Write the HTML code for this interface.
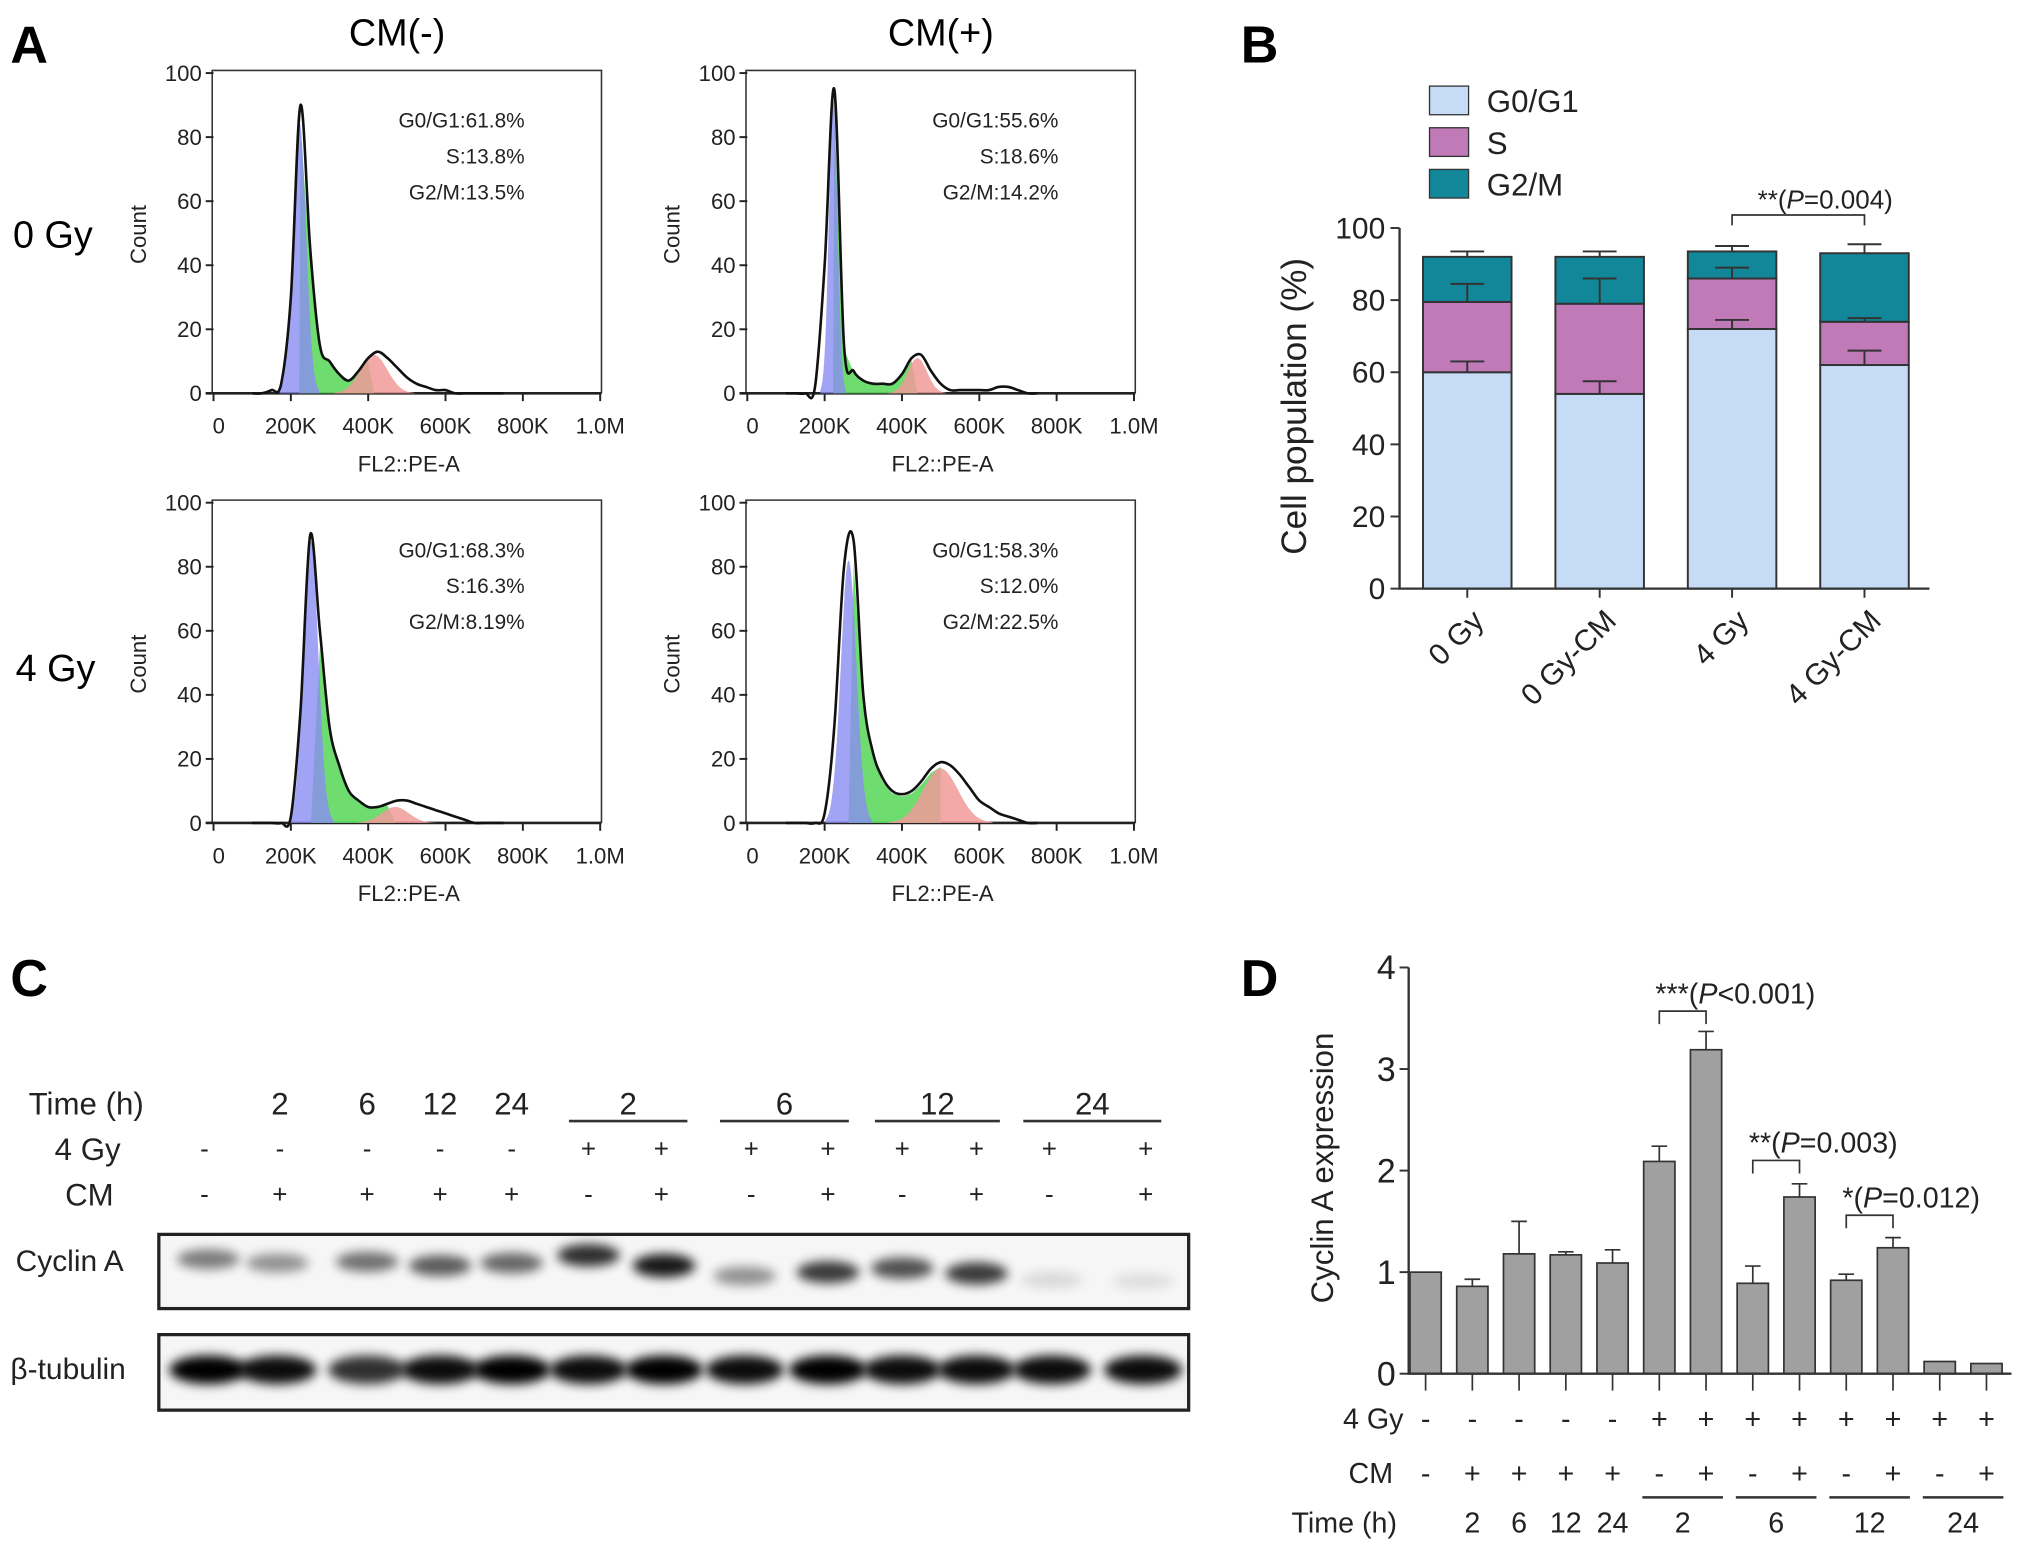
<!DOCTYPE html>
<html><head><meta charset="utf-8">
<style>
html,body{margin:0;padding:0;background:#fff;}
svg{display:block;font-family:"Liberation Sans",Arial,sans-serif;}
</style></head>
<body>
<svg id="fig" width="2031" height="1547" viewBox="0 0 1560 1188" xmlns="http://www.w3.org/2000/svg">
<defs><filter id="blur" x="-50%" y="-100%" width="200%" height="300%"><feGaussianBlur stdDeviation="4"/></filter></defs>
<rect width="1560" height="1188" fill="#fff"/>
<text x="8" y="48" font-size="40" font-weight="bold">A</text>
<text x="953" y="48" font-size="40" font-weight="bold">B</text>
<text x="8" y="765" font-size="40" font-weight="bold">C</text>
<text x="953" y="765" font-size="40" font-weight="bold">D</text>
<text x="268" y="35" font-size="29">CM(-)</text>
<text x="682" y="35" font-size="29">CM(+)</text>
<text x="10" y="190" font-size="29">0 Gy</text>
<text x="12" y="523" font-size="29">4 Gy</text>
<g id="hist"></g><g id="pb"></g><g id="pc"></g><g id="pd"></g>
</svg>
<script>
const NS='http://www.w3.org/2000/svg';
function mk(tag,attrs,parent,txt){const e=document.createElementNS(NS,tag);for(const k in attrs)e.setAttribute(k,attrs[k]);if(txt!==undefined)e.textContent=txt;parent.appendChild(e);return e;}

/* ---------- Panel A data ---------- */
const kGrid=[100,125,150,175,200,225,250,275,300,325,350,375,400,425,450,475,500,525,550,575,600,625,650,675,700,725,750];
const outlineTL=[0,0,1,3,30,90,45,15,10,6,4,7,11,13,11,8,5,3,2,1,1,0,0,0,0,0,0];
const outlineTR=[0,0,0,2,40,95,15,7,4,3,3,3,6,11,12,7,3,1,1,1,1,1,2,2,1,0,0];
const outlineBL=[0,0,0,0,2,35,90,60,30,18,10,7,5,5,6,7,7,6,5,4,3,2,1,0,0,0,0];
const outlineBR=[0,0,0,0,3,30,80,88,40,22,14,10,9,10,13,17,19,18,15,11,7,5,3,2,1,0,0];
const g1Params=[[222,85,17],[222,92,11],[252,88,19],[262,82,20]];
const g2Params=[[415,12,35],[440,11,25],[470,5,35],[500,17,45]];
const annG1=['G0/G1:61.8%','G0/G1:55.6%','G0/G1:68.3%','G0/G1:58.3%'];
const annS=['S:13.8%','S:18.6%','S:16.3%','S:12.0%'];
const annG2=['G2/M:13.5%','G2/M:14.2%','G2/M:8.19%','G2/M:22.5%'];
const yTicksA=[0,20,40,60,80,100];
const xTicksA=[0,200,400,600,800,1000];
const xTickLabA=['0','200K','400K','600K','800K','1.0M'];

const panels=[{x0:164,y0:302,o:outlineTL},{x0:574,y0:302,o:outlineTR},{x0:164,y0:632,o:outlineBL},{x0:574,y0:632,o:outlineBR}];
const H=document.getElementById('hist');
function smoothPath(pts){let d='M'+pts[0][0]+','+pts[0][1];for(let i=0;i<pts.length-1;i++){const p0=pts[Math.max(0,i-1)],p1=pts[i],p2=pts[i+1],p3=pts[Math.min(pts.length-1,i+2)];const c1=[p1[0]+(p2[0]-p0[0])/6,p1[1]+(p2[1]-p0[1])/6],c2=[p2[0]-(p3[0]-p1[0])/6,p2[1]-(p3[1]-p1[1])/6];d+=' C'+c1[0].toFixed(1)+','+Math.min(c1[1],0+99999).toFixed(1)+' '+c2[0].toFixed(1)+','+c2[1].toFixed(1)+' '+p2[0].toFixed(1)+','+p2[1].toFixed(1);}return d;}
panels.forEach((p,idx)=>{
  const xs=k=>p.x0+k*0.297, ys=c=>p.y0-c*2.46;
  const g=mk('g',{},H);
  
  
  // frame
  const fr=mk('path',{d:`M${p.x0-1},${p.y0} V${p.y0-248} H${p.x0+298} V${p.y0}`,fill:'none',stroke:'#333','stroke-width':1.2},g);
  
  
  const xa=mk('line',{x1:p.x0-6,y1:p.y0,x2:p.x0+298,y2:p.y0,stroke:'#222','stroke-width':2},g);
  
  
  yTicksA.forEach(t=>{
    mk('line',{x1:p.x0-6,x2:p.x0,y1:ys(t),y2:ys(t),stroke:'#222','stroke-width':1.5},g);
    const tl=mk('text',{x:p.x0-9,y:ys(t)+6,'font-size':17,'text-anchor':'end',fill:'#222'},g,String(t));
    
    
  });
  xTicksA.forEach((t,i)=>{
    mk('line',{x1:xs(t),x2:xs(t),y1:p.y0,y2:p.y0+6,stroke:'#222','stroke-width':1.5},g);
    const tl=mk('text',{x:xs(t)+(i==0?4:0),y:p.y0+31,'font-size':17,'text-anchor':'middle',fill:'#222'},g,xTickLabA[i]);
    
    
  });
  const xt=mk('text',{x:p.x0+150,y:p.y0+60,'font-size':17,'text-anchor':'middle',fill:'#222'},g,'FL2::PE-A');
  
  
  const yt=mk('text',{x:0,y:0,'font-size':17,'text-anchor':'middle',fill:'#222',transform:`translate(${p.x0-52},${p.y0-122}) rotate(-90)`},g,'Count');
  
  
  const [m1,h1,s1]=g1Params[idx],[m2,h2,s2]=g2Params[idx];
  // green S-phase fill
  const gp=[];kGrid.forEach((k,i)=>{if(k>=m1&&k<=m2)gp.push([xs(k),ys(p.o[i]*0.92)]);});
  const gd='M'+xs(m1)+','+p.y0+' L'+gp.map(q=>q.join(',')).join(' L')+' L'+xs(m2)+','+p.y0+' Z';
  const gr=mk('path',{d:gd,fill:'#5ed85e',opacity:0.9},g);
  
  
  function gauss(m,h,s){const pts=[];for(let k=m-3*s;k<=m+3*s;k+=2)pts.push([xs(k),ys(h*Math.exp(-0.5*((k-m)/s)**2))]);return 'M'+xs(m-3*s)+','+p.y0+' L'+pts.map(q=>q[0].toFixed(1)+','+q[1].toFixed(1)).join(' L')+' L'+xs(m+3*s)+','+p.y0+' Z';}
  const rd=mk('path',{d:gauss(m2,h2,s2),fill:'#f29a9a',opacity:0.85},g);
  
  
  const bl=mk('path',{d:gauss(m1,h1,s1),fill:'#8a8cf2',opacity:0.8},g);
  
  
  const pts=kGrid.map((k,i)=>[xs(k),ys(p.o[i])]);
  const ol=mk('path',{d:smoothPath(pts),fill:'none',stroke:'#111','stroke-width':2},g);
  
  
  [annG1[idx],annS[idx],annG2[idx]].forEach((t,j)=>{
    const a=mk('text',{x:p.x0+239,y:p.y0-204+j*27.5,'font-size':16,'text-anchor':'end',fill:'#222'},g,t);
    
    
  });
});

/* ---------- Panel B ---------- */
const bCats=['0 Gy','0 Gy-CM','4 Gy','4 Gy-CM'];
const bG0=[60,54,72,62];
const bS=[19.5,25,14,12];
const bG2=[12.5,13,7.5,19];
const bG0err=[3,3.5,2.5,4];
const bSerr=[5,7,3,1];
const bG2err=[1.5,1.5,1.5,2.5];
const bTicks=[0,20,40,60,80,100];
const B=document.getElementById('pb');
const bx=i=>1127+i*101.7, by=v=>452-v*2.77, bw=68;
const cols=['#c6dcf6','#c07ab8','#13879a'];
bCats.forEach((c,i)=>{
  const segs=[bG0[i],bS[i],bG2[i]],errs=[bG0err[i],bSerr[i],bG2err[i]];let base=0;
  segs.forEach((v,j)=>{
    const r=mk('rect',{x:bx(i)-bw/2,y:by(base+v),width:bw,height:v*2.77,fill:cols[j],stroke:'#333','stroke-width':1.5},B);
    
    
    base+=v;
  });
  base=0;
  segs.forEach((v,j)=>{base+=v;const top=by(base),t2=by(base+errs[j]);
    const e=mk('path',{d:`M${bx(i)},${top} V${t2} M${bx(i)-13},${t2} H${bx(i)+13}`,stroke:'#333','stroke-width':1.5,fill:'none'},B);
    
    
  });
  const tl=mk('text',{x:0,y:0,'font-size':23,'text-anchor':'end',fill:'#222',transform:`translate(${bx(i)+14},${478}) rotate(-45)`},B,c);
  
  
  mk('line',{x1:bx(i),x2:bx(i),y1:452,y2:459,stroke:'#333','stroke-width':1.5},B);
});
const bax=mk('path',{d:`M1075,${by(100)} V452 H1482`,stroke:'#333','stroke-width':1.8,fill:'none'},B);


bTicks.forEach(t=>{mk('line',{x1:1068,x2:1075,y1:by(t),y2:by(t),stroke:'#333','stroke-width':1.5},B);
  const tl=mk('text',{x:1064,y:by(t)+8,'font-size':23,'text-anchor':'end',fill:'#222'},B,String(t));
  
  });
const byt=mk('text',{x:0,y:0,'font-size':27,'text-anchor':'middle',fill:'#222',transform:'translate(1003,312) rotate(-90)'},B,'Cell population (%)');


['G0/G1','S','G2/M'].forEach((t,j)=>{
  const r=mk('rect',{x:1098,y:66+j*32,width:30,height:22,fill:cols[j],stroke:'#333','stroke-width':1},B);
  
  
  const l=mk('text',{x:1142,y:86+j*32,'font-size':24,fill:'#222'},B,t);
  
  
});
const bbr=mk('path',{d:`M${bx(2)},173 V165 H${bx(3)} V173`,stroke:'#333','stroke-width':1.3,fill:'none'},B);


const bsig=mk('text',{x:1350,y:160,'font-size':20,fill:'#222'},B);
bsig.innerHTML='**(<tspan font-style="italic">P</tspan>=0.004)';



/* ---------- Panel C ---------- */
const laneX=[160,213,282,338,393,452,510,572,636,693,750,808,878];
const cyclinInt=[0.55,0.45,0.6,0.7,0.65,0.9,1.0,0.45,0.85,0.75,0.85,0.12,0.1];
const cyclinY=[967,970,969,972,970,964,972,980,977,974,978,983,984];
const tubInt=[1,0.95,0.8,0.95,1,0.95,1,0.95,1,0.95,0.95,0.95,0.95];
const C=document.getElementById('pc');
function ct(x,y,t,sz,anchor,name){const e=mk('text',{x:x,y:y,'font-size':sz,'text-anchor':anchor||'middle',fill:'#222'},C,t);return e;}
ct(22,856,'Time (h)',24,'start','time-row-label');
ct(42,891,'4 Gy',24,'start','dose-row-label');
ct(50,926,'CM',24,'start','cm-row-label');
const cTimeSingle=[[215,'2'],[282,'6'],[338,'12'],[393,'24']];
cTimeSingle.forEach(a=>ct(a[0],856,a[1],24,'middle','time-label'));
const cTimeGroup=[[437,528,'2'],[553,652,'6'],[672,768,'12'],[786,892,'24']];
cTimeGroup.forEach(a=>{ct((a[0]+a[1])/2,856,a[2],24,'middle','time-group-label');const l=mk('line',{x1:a[0],x2:a[1],y1:861,y2:861,stroke:'#333','stroke-width':2},C);});
const doseSigns=['-','-','-','-','-','+','+','+','+','+','+','+','+'];
const cmSigns=['-','+','+','+','+','-','+','-','+','-','+','-','+'];
const signX=[157,215,282,338,393,452,508,577,636,693,750,806,880];
doseSigns.forEach((s,i)=>ct(signX[i],889,s,20,'middle','dose-sign'));
cmSigns.forEach((s,i)=>ct(signX[i],924,s,20,'middle','cm-sign'));
ct(12,976,'Cyclin A',23,'start','cyclin-a-label');
ct(8,1059,'β-tubulin',23,'start','beta-tubulin-label');
const cbox=mk('rect',{x:122,y:948,width:791,height:57,fill:'#f6f6f6',stroke:'#222','stroke-width':2.5},C);


const tbox=mk('rect',{x:122,y:1025,width:791,height:58,fill:'#f6f6f6',stroke:'#222','stroke-width':2.5},C);


laneX.forEach((x,i)=>{
  const b=mk('ellipse',{cx:x,cy:cyclinY[i],rx:24,ry:6+cyclinInt[i]*3,fill:'#000',opacity:cyclinInt[i]*0.9,filter:'url(#blur)'},C);
  
  
  const t=mk('ellipse',{cx:x,cy:1052,rx:30,ry:11,fill:'#000',opacity:tubInt[i],filter:'url(#blur)'},C);
  
  
});

/* ---------- Panel D ---------- */
const dVals=[1.0,0.86,1.18,1.17,1.09,2.09,3.19,0.89,1.74,0.92,1.24,0.12,0.1];
const dErr=[0,0.07,0.32,0.03,0.13,0.15,0.18,0.17,0.13,0.06,0.1,0,0];
const dTicks=[0,1,2,3,4];
const dDose=['-','-','-','-','-','+','+','+','+','+','+','+','+'];
const dCM=['-','+','+','+','+','-','+','-','+','-','+','-','+'];
const dSig=[[5,6,3.57,'***','<0.001'],[7,8,2.1,'**','=0.003'],[9,10,1.56,'*','=0.012']];
const D=document.getElementById('pd');
const dx=i=>1095+i*35.9, dy=v=>1055-v*78;
dVals.forEach((v,i)=>{
  const r=mk('rect',{x:dx(i)-12,y:dy(v),width:24,height:v*78,fill:'#a0a0a0',stroke:'#333','stroke-width':1.3},D);
  
  
  if(dErr[i]>0){const e=mk('path',{d:`M${dx(i)},${dy(v)} V${dy(v+dErr[i])} M${dx(i)-6},${dy(v+dErr[i])} H${dx(i)+6}`,stroke:'#333','stroke-width':1.3,fill:'none'},D);
    
    }
  mk('line',{x1:dx(i),x2:dx(i),y1:1055,y2:1068,stroke:'#333','stroke-width':1.3},D);
  const a=mk('text',{x:dx(i),y:1097,'font-size':22,'text-anchor':'middle',fill:'#222'},D,dDose[i]);
  
  
  const b=mk('text',{x:dx(i),y:1139,'font-size':22,'text-anchor':'middle',fill:'#222'},D,dCM[i]);
  
  
});
const dax=mk('path',{d:`M1082,${dy(4)} V1055 H1545`,stroke:'#333','stroke-width':1.8,fill:'none'},D);


dTicks.forEach(t=>{mk('line',{x1:1075,x2:1082,y1:dy(t),y2:dy(t),stroke:'#333','stroke-width':1.5},D);
  const tl=mk('text',{x:1072,y:dy(t)+9,'font-size':26,'text-anchor':'end',fill:'#222'},D,String(t));
  
  });
const dyt=mk('text',{x:0,y:0,'font-size':24,'text-anchor':'middle',fill:'#222',transform:'translate(1024,897) rotate(-90)'},D,'Cyclin A expression');


dSig.forEach(s=>{
  const y=dy(s[2]);
  const br=mk('path',{d:`M${dx(s[0])},${y+10} V${y} H${dx(s[1])} V${y+10}`,stroke:'#333','stroke-width':1.3,fill:'none'},D);
  
  
  const t=mk('text',{x:dx(s[0])-3,y:y-6,'font-size':22,fill:'#222'},D);
  t.innerHTML=s[3]+'(<tspan font-style="italic">P</tspan>'+s[4].replace('<','&lt;')+')';
  
  
});
function dt(x,y,t,anchor,name){const e=mk('text',{x:x,y:y,'font-size':22,'text-anchor':anchor,fill:'#222'},D,t);}
dt(1078,1097,'4 Gy','end','dose-row-label');
dt(1070,1139,'CM','end','cm-row-label');
dt(992,1177,'Time (h)','start','time-row-label');
const dTimeSingle=[[1,'2'],[2,'6'],[3,'12'],[4,'24']];
dTimeSingle.forEach(a=>dt(dx(a[0]),1177,a[1],'middle','time-label'));
const dTimeGroup=[[5,6,'2'],[7,8,'6'],[9,10,'12'],[11,12,'24']];
dTimeGroup.forEach(a=>{const x1=dx(a[0])-13,x2=dx(a[1])+13;
  const l=mk('line',{x1:x1,x2:x2,y1:1150,y2:1150,stroke:'#333','stroke-width':2},D);
  
  
  dt((x1+x2)/2,1177,a[2],'middle','time-group-label');});
</script>
</body></html>
